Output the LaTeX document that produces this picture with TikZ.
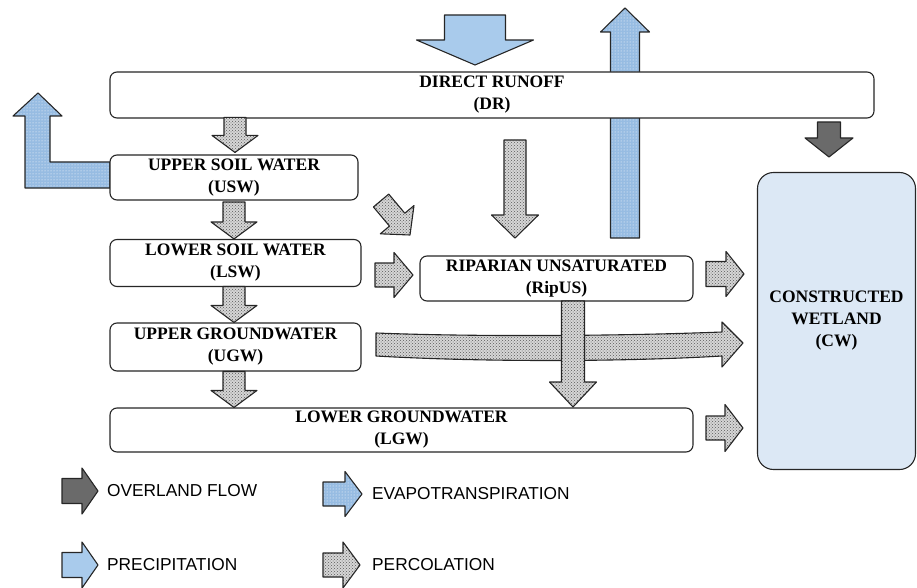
\documentclass[tikz,border=0pt]{standalone}
\usepackage{fontspec}
\setmainfont{Liberation Serif}
\newfontfamily\legfont{Liberation Sans}
\usetikzlibrary{patterns,calc}
\definecolor{precipc}{HTML}{A9CBEC}
\definecolor{evapc}{HTML}{97BCE2}
\definecolor{overc}{HTML}{6A6A6A}
\definecolor{percc}{HTML}{D6D6D6}
\definecolor{cwc}{HTML}{DCE8F5}
\newcommand\fatarrow[7]{%
  \begin{scope}[shift={#2}, rotate=#3]
    \path[#1] (0,0) -- (-#7,#6/2) -- (-#7,#5/2) -- (-#4,#5/2) -- (-#4,-#5/2)
      -- (-#7,-#5/2) -- (-#7,-#6/2) -- cycle;
  \end{scope}}
\tikzset{
  outl/.style={draw=black!85, line width=1.1pt, line join=round},
  perc/.style={outl, preaction={fill=percc}, pattern=crosshatch dots, pattern color=black!65},
  evap/.style={outl, preaction={fill=evapc}, pattern=dots, pattern color=white},
  precip/.style={outl, fill=precipc},
  over/.style={outl, fill=overc},
  box/.style={draw=black!85, line width=1.1pt, fill=white, rounded corners=7pt,
    align=center, inner sep=0pt, font=\bfseries\fontsize{17.5}{22}\selectfont},
  legtext/.style={anchor=west, inner sep=0pt, font=\legfont\fontsize{17.3}{20}\selectfont}
}
\begin{document}
\begin{tikzpicture}[x=1pt, y=-1pt]
\useasboundingbox (0,0) rectangle (917,588);

% evapotranspiration up arrow (behind DR)
\fatarrow{evap}{(625,8)}{90}{230}{29}{49}{24}
% precipitation
\fatarrow{precip}{(475,65)}{-90}{50}{61}{117}{25}

% L-shaped evapotranspiration from USW
\path[evap] (110,162) -- (50,162) -- (50,116) -- (62,116) -- (38,93) -- (13,116)
  -- (25,116) -- (25,188) -- (110,188) -- cycle;

% boxes
\node[box, minimum width=764pt, minimum height=46pt] (dr) at (492,95) {DIRECT RUNOFF\\(DR)};
\node[box, minimum width=248pt, minimum height=45pt] (usw) at (234,177.5) {UPPER SOIL WATER\\(USW)};
\node[box, minimum width=251pt, minimum height=47pt] (lsw) at (235.5,263) {LOWER SOIL WATER\\(LSW)};
\node[box, minimum width=251pt, minimum height=48pt] (ugw) at (235.5,347) {UPPER GROUNDWATER\\(UGW)};
\node[box, minimum width=583pt, minimum height=44pt] (lgw) at (401.5,430) {LOWER GROUNDWATER\\(LGW)};
\node[box, minimum width=273pt, minimum height=45pt] (rip) at (556.5,278.5) {RIPARIAN UNSATURATED\\(RipUS)};
\node[box, fill=cwc, rounded corners=16pt, minimum width=158pt, minimum height=297pt] (cw) at (836.5,321) {CONSTRUCTED\\WETLAND\\(CW)};

% overland flow
\fatarrow{over}{(829,157)}{-90}{35}{23}{48}{19}

% percolation arrows, left column
\fatarrow{perc}{($(usw.north)+(1,-2)$)}{-90}{35}{22}{46}{17}
\fatarrow{perc}{(lsw.north -| usw.north)}{-90}{37}{22}{46}{17}
\fatarrow{perc}{(ugw.north -| usw.north)}{-90}{36}{22}{46}{17}
\fatarrow{perc}{(lgw.north -| usw.north)}{-90}{36}{22}{46}{17}

% percolation arrows, middle
\fatarrow{perc}{(515,238)}{-90}{98}{22}{47}{23}
\fatarrow{perc}{(410,235)}{-50}{45}{20}{44}{20}
\fatarrow{perc}{(413,275)}{0}{38}{24}{45}{19}
\fatarrow{perc}{(744,274)}{0}{38}{25}{45}{18}
\fatarrow{perc}{(743,428)}{0}{37}{24}{47}{18}

% long UGW -> CW arrow
\path[perc] (376,333) .. controls (480,337) and (620,336) .. (722,332) -- (722,322)
  -- (743,343) -- (722,367) -- (722,356) .. controls (620,362) and (480,362) .. (376,356) -- cycle;
% RipUS -> LGW
\fatarrow{perc}{(573,407)}{-90}{106}{23}{47}{25}

% legend
\fatarrow{over}{(98,491)}{0}{36}{25}{46}{16}
\node[legtext] (l1) at (107,491) {OVERLAND FLOW};
\fatarrow{precip}{(98,565)}{0}{36}{25}{46}{16}
\node[legtext] (l2) at (107,565) {PRECIPITATION};
\fatarrow{evap}{(362,494)}{0}{39}{24}{45}{17}
\node[legtext] (l3) at (372,494) {EVAPOTRANSPIRATION};
\fatarrow{perc}{(360,565)}{0}{37}{24}{46}{17}
\node[legtext] (l4) at (372,565) {PERCOLATION};
\end{tikzpicture}
\end{document}
